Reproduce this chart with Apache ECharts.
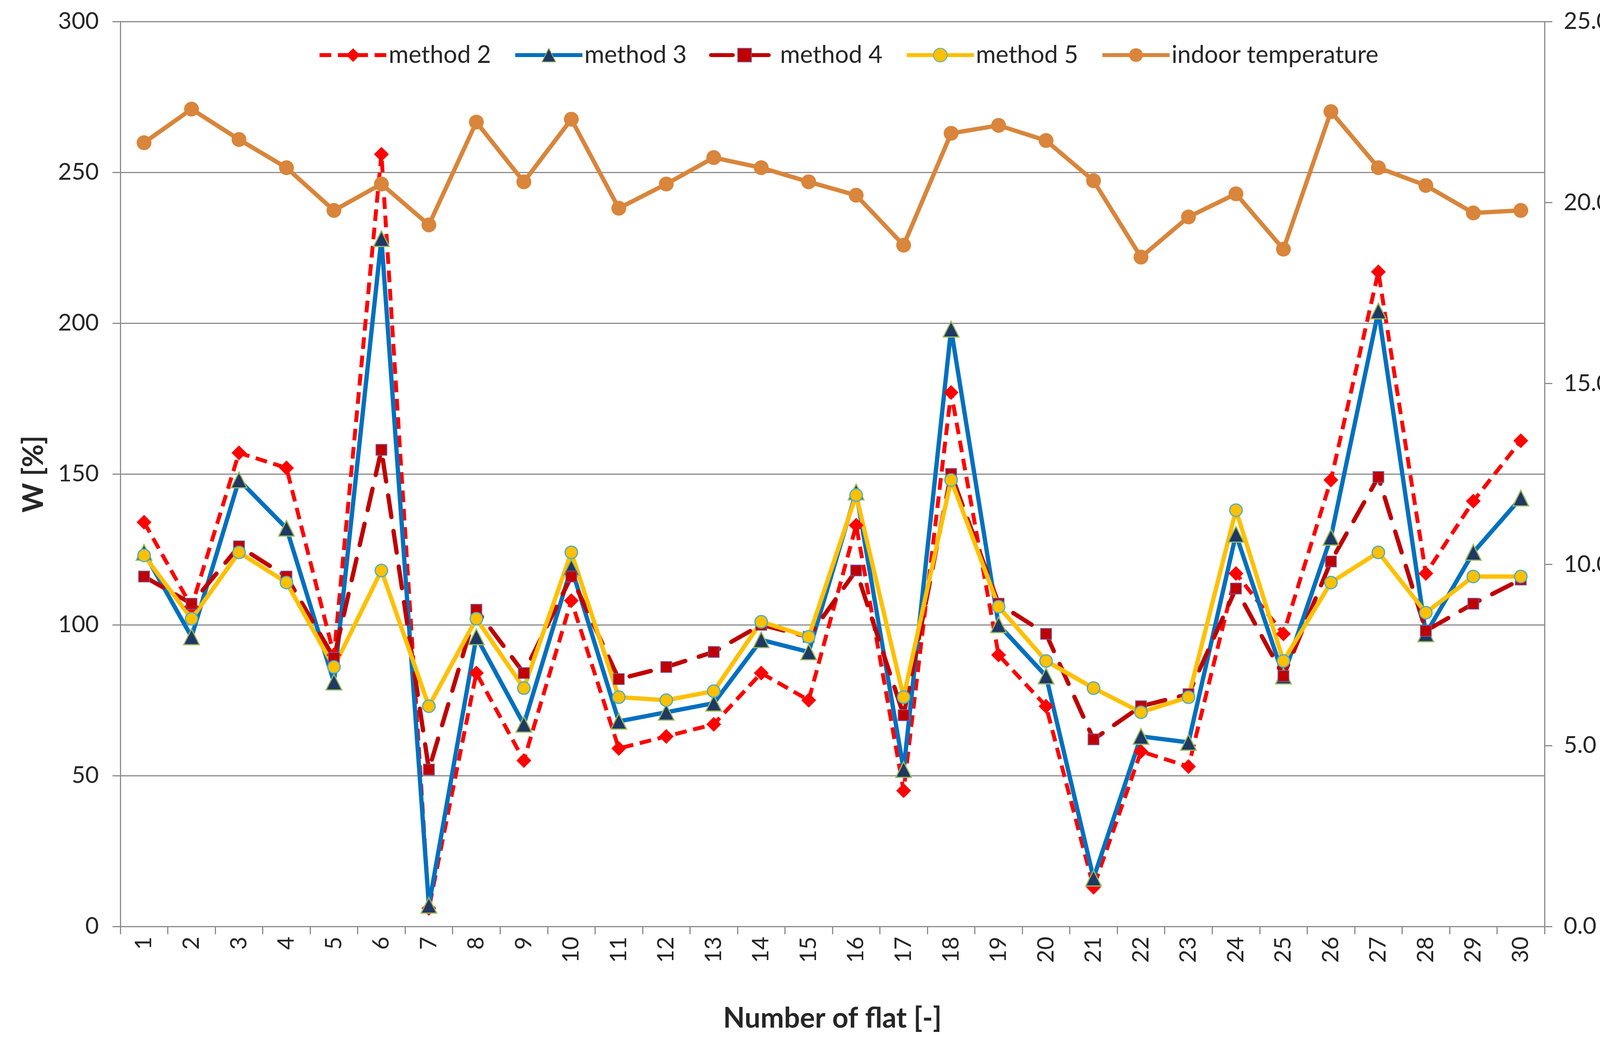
<!DOCTYPE html>
<html>
<head>
<meta charset="utf-8">
<script src="https://cdn.jsdelivr.net/npm/echarts@6/dist/echarts.min.js"></script>
<style>
html,body{margin:0;padding:0;background:#fff;}
#chart{width:4279px;height:2677px;}
</style>
</head>
<body>
<div id="chart"></div>
<script>
const categories = ['1','2','3','4','5','6','7','8','9','10','11','12','13','14','15','16','17','18','19','20','21','22','23','24','25','26','27','28','29','30'];
const method2 = [134, 106, 157, 152, 90, 256, 6, 84, 55, 108, 59, 63, 67, 84, 75, 133, 45, 177, 90, 73, 13, 58, 53, 117, 97, 148, 217, 117, 141, 161];
const method3 = [124, 96, 148, 132, 81, 228, 7, 96, 67, 119, 68, 71, 74, 95, 91, 144, 52, 198, 100, 83, 16, 63, 61, 130, 83, 129, 204, 97, 124, 142];
const method4 = [116, 107, 126, 116, 89, 158, 52, 105, 84, 116, 82, 86, 91, 100, 96, 118, 70, 150, 107, 97, 62, 73, 77, 112, 83, 121, 149, 98, 107, 115];
const method5 = [123, 102, 124, 114, 86, 118, 73, 102, 79, 124, 76, 75, 78, 101, 96, 143, 76, 148, 106, 88, 79, 71, 76, 138, 88, 114, 124, 104, 116, 116];
const indoorTemp = [21.65, 22.58, 21.74, 20.96, 19.78, 20.51, 19.38, 22.22, 20.57, 22.30, 19.84, 20.51, 21.24, 20.96, 20.57, 20.20, 18.82, 21.91, 22.13, 21.71, 20.60, 18.49, 19.60, 20.24, 18.71, 22.51, 20.96, 20.47, 19.71, 19.78];

const FONT = 'Lato';
const TXT = '#262626';
const GRIDC = '#8c8c8c';

const chart = echarts.init(document.getElementById('chart'), null, {renderer:'canvas'});
chart.setOption({
  backgroundColor:'#ffffff',
  animation:false,
  textStyle:{fontFamily:FONT, color:TXT},
  legend:{
    top:110, left:813, padding:0,
    itemWidth:172, itemHeight:44, itemGap:57,
    lineStyle:{width:10},
    textStyle:{fontSize:62, color:TXT, fontFamily:FONT},
    data:['method 2','method 3','method 4','method 5','indoor temperature']
  },
  grid:{left:308, right:325, top:55, bottom:306, containLabel:false},
  xAxis:{
    type:'category', data:categories, boundaryGap:true,
    name:'Number of flat [-]', nameLocation:'middle', nameGap:200,
    nameTextStyle:{fontSize:72, fontWeight:'bold', color:TXT, fontFamily:FONT},
    axisLine:{lineStyle:{color:GRIDC, width:3}},
    axisTick:{show:true, alignWithLabel:false, length:20, lineStyle:{color:GRIDC, width:3}},
    axisLabel:{rotate:90, fontSize:58, color:TXT, margin:26, fontFamily:FONT, interval:0},
    splitLine:{show:false}
  },
  yAxis:[
    {
      type:'value', min:0, max:300, interval:50, position:'left',
      name:'W [%]', nameLocation:'middle', nameGap:185, nameRotate:90,
      nameTextStyle:{fontSize:72, fontWeight:'bold', color:TXT, fontFamily:FONT},
      axisLine:{show:true, lineStyle:{color:GRIDC, width:3}},
      axisTick:{show:true, length:20, lineStyle:{color:GRIDC, width:3}},
      axisLabel:{fontSize:60, color:TXT, margin:55, fontFamily:FONT},
      splitLine:{show:true, lineStyle:{color:GRIDC, width:3}}
    },
    {
      type:'value', min:0, max:25, interval:5, position:'right',
      name:'Indoor temperature [°C]', nameLocation:'middle', nameGap:205, nameRotate:90,
      nameTextStyle:{fontSize:72, fontWeight:'bold', color:TXT, fontFamily:FONT},
      axisLine:{show:true, lineStyle:{color:GRIDC, width:3}},
      axisTick:{show:true, length:20, lineStyle:{color:GRIDC, width:3}},
      axisLabel:{fontSize:60, color:TXT, margin:49, fontFamily:FONT, formatter:v=>v.toFixed(1)},
      splitLine:{show:false}
    }
  ],
  series:[
    {
      name:'method 2', type:'line', yAxisIndex:0, data:method2,
      symbol:'diamond', symbolSize:38,
      lineStyle:{color:'#FF0000', width:10, type:[30,17]},
      itemStyle:{color:'#FF0000', borderWidth:0}
    },
    {
      name:'method 3', type:'line', yAxisIndex:0, data:method3,
      symbol:'triangle', symbolSize:40,
      lineStyle:{color:'#0070C0', width:11, type:'solid'},
      itemStyle:{color:'#1F3864', borderColor:'#9BBB59', borderWidth:3}
    },
    {
      name:'method 4', type:'line', yAxisIndex:0, data:method4,
      symbol:'rect', symbolSize:28,
      lineStyle:{color:'#C00000', width:11, type:[56,36], cap:'round'},
      itemStyle:{color:'#C00000', borderColor:'#7060A8', borderWidth:2}
    },
    {
      name:'method 5', type:'line', yAxisIndex:0, data:method5,
      symbol:'circle', symbolSize:32,
      lineStyle:{color:'#FFC000', width:11, type:'solid'},
      itemStyle:{color:'#FFC000', borderColor:'#4BACC6', borderWidth:3}
    },
    {
      name:'indoor temperature', type:'line', yAxisIndex:1, data:indoorTemp,
      symbol:'circle', symbolSize:38,
      lineStyle:{color:'#D9853B', width:11, type:'solid'},
      itemStyle:{color:'#D9853B', borderWidth:0}
    }
  ]
});
</script>
</body>
</html>
